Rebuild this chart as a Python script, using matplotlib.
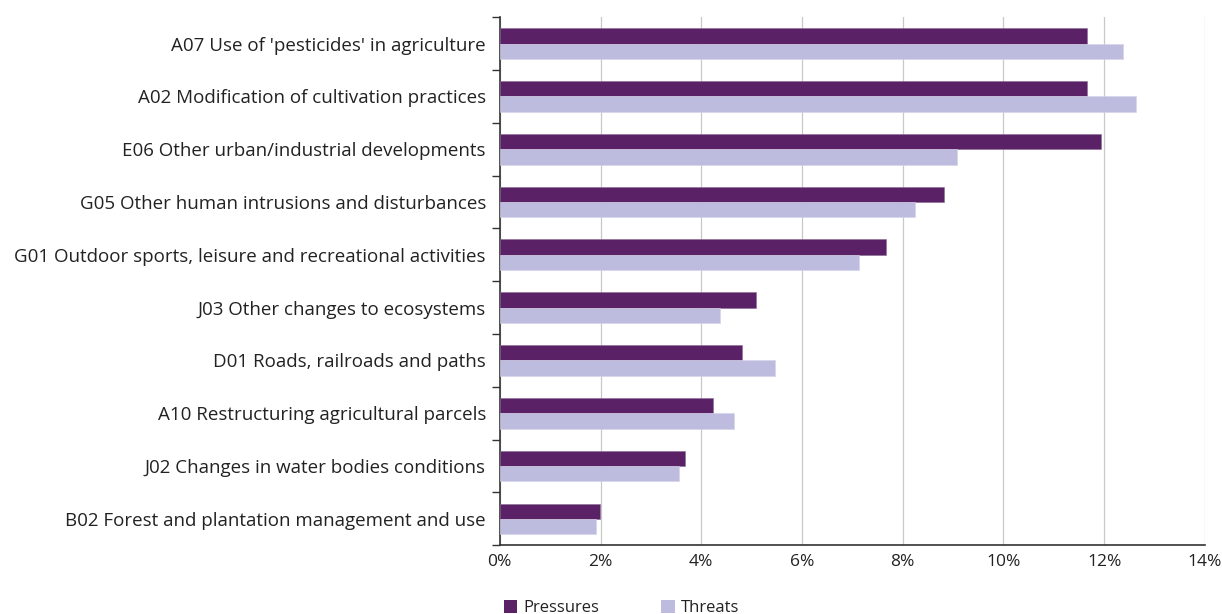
import matplotlib.pyplot as plt
import numpy as np
from matplotlib.patches import Patch

plt.rcParams['font.family'] = ['Open Sans', 'DejaVu Sans']

# categories from top to bottom
categories = [
    "A07 Use of 'pesticides' in agriculture",
    "A02 Modification of cultivation practices",
    "E06 Other urban/industrial developments",
    "G05 Other human intrusions and disturbances",
    "G01 Outdoor sports, leisure and recreational activities",
    "J03 Other changes to ecosystems",
    "D01 Roads, railroads and paths",
    "A10 Restructuring agricultural parcels",
    "J02 Changes in water bodies conditions",
    "B02 Forest and plantation management and use",
]
pressures = [11.65, 11.65, 11.94, 8.81, 7.67, 5.09, 4.81, 4.24, 3.68, 1.98]
threats = [12.37, 12.64, 9.07, 8.25, 7.14, 4.38, 5.47, 4.65, 3.56, 1.91]
x_ticks = [0, 2, 4, 6, 8, 10, 12, 14]

col_p = '#5b2167'
col_t = '#bebcde'
txt = '#222222'
fs = 13.5

fig = plt.figure(figsize=(12.22, 6.14), dpi=100)
ax = fig.add_axes([0.409, 0.112, 0.577, 0.86])

n = len(categories)
y = np.arange(n)[::-1]
h = 0.29

ax.barh(y + h / 2, pressures, height=h, color=col_p, edgecolor='#8a6a93', linewidth=0.4, zorder=3)
ax.barh(y - h / 2, threats, height=h, color=col_t, edgecolor='#d4d2ea', linewidth=0.4, zorder=3)

ax.set_xlim(0, 14)
ax.set_ylim(-0.5, n - 0.5)
ax.set_xticks(x_ticks)
ax.set_xticklabels([f'{v}%' for v in x_ticks], fontsize=12.5, color=txt)
ax.tick_params(axis='x', length=0, pad=6)

ax.set_yticks(y)
ax.set_yticklabels(categories, fontsize=fs, color=txt)
ax.set_yticks(np.arange(n + 1) - 0.5, minor=True)
ax.tick_params(axis='y', which='major', length=0, pad=10)
ax.tick_params(axis='y', which='minor', length=6, width=1, color='#333333')

ax.grid(axis='x', color='#c8c8c8', linewidth=0.9, zorder=0)
for s in ['top', 'right']:
    ax.spines[s].set_visible(False)
ax.spines['left'].set_color('#333333')
ax.spines['bottom'].set_color('#333333')
ax.spines['left'].set_linewidth(1.2)
ax.spines['bottom'].set_linewidth(1.2)

handles = [Patch(facecolor=col_p, label='Pressures'), Patch(facecolor=col_t, label='Threats')]
fig.legend(handles=handles, loc='lower left', bbox_to_anchor=(0.4, -0.028), ncol=2,
           frameon=False, fontsize=12, handlelength=0.8, handleheight=0.8,
           handletextpad=0.4, columnspacing=3.7, labelcolor=txt)

fig.savefig('out.png', dpi=100)
